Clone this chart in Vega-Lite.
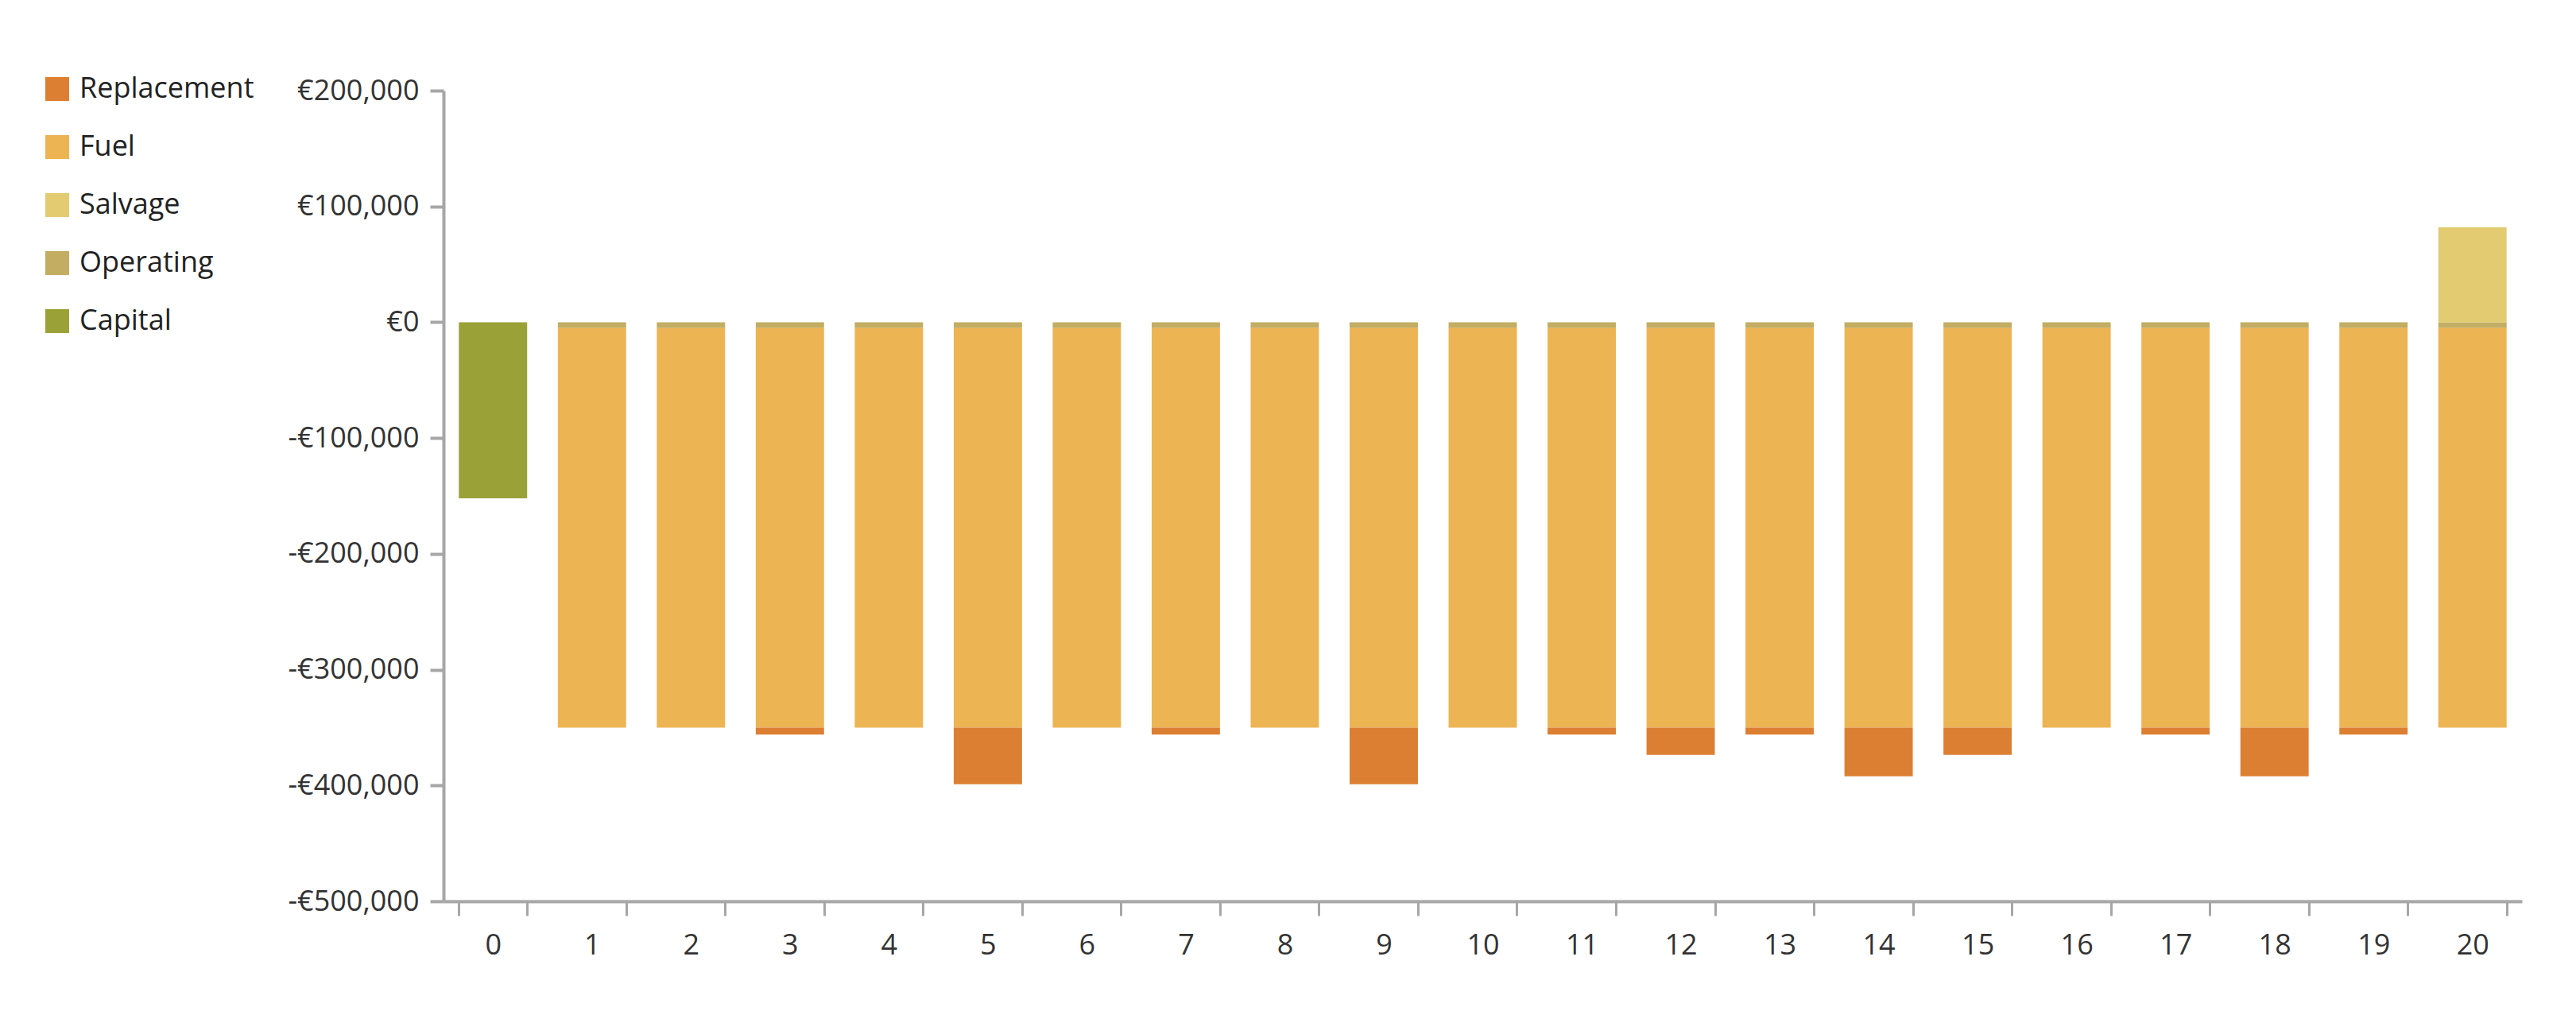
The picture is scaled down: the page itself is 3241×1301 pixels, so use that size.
{
  "$schema": "https://vega.github.io/schema/vega-lite/v6.json",
  "autosize": {"type": "none"},
  "width": 2615,
  "height": 1020,
  "padding": {"left": 558, "top": 114, "right": 68, "bottom": 167},
  "background": "#ffffff",
  "config": {
    "font": "Open Sans",
    "view": {"stroke": null},
    "axis": {"grid": false}
  },
  "data": {
    "values": [
      {"Year": "0", "Category": "Capital", "Value": -152000},
      {"Year": "1", "Category": "Operating", "Value": -5000},
      {"Year": "1", "Category": "Fuel", "Value": -345000},
      {"Year": "2", "Category": "Operating", "Value": -5000},
      {"Year": "2", "Category": "Fuel", "Value": -345000},
      {"Year": "3", "Category": "Operating", "Value": -5000},
      {"Year": "3", "Category": "Fuel", "Value": -345000},
      {"Year": "3", "Category": "Replacement", "Value": -6000},
      {"Year": "4", "Category": "Operating", "Value": -5000},
      {"Year": "4", "Category": "Fuel", "Value": -345000},
      {"Year": "5", "Category": "Operating", "Value": -5000},
      {"Year": "5", "Category": "Fuel", "Value": -345000},
      {"Year": "5", "Category": "Replacement", "Value": -49000},
      {"Year": "6", "Category": "Operating", "Value": -5000},
      {"Year": "6", "Category": "Fuel", "Value": -345000},
      {"Year": "7", "Category": "Operating", "Value": -5000},
      {"Year": "7", "Category": "Fuel", "Value": -345000},
      {"Year": "7", "Category": "Replacement", "Value": -6000},
      {"Year": "8", "Category": "Operating", "Value": -5000},
      {"Year": "8", "Category": "Fuel", "Value": -345000},
      {"Year": "9", "Category": "Operating", "Value": -5000},
      {"Year": "9", "Category": "Fuel", "Value": -345000},
      {"Year": "9", "Category": "Replacement", "Value": -49000},
      {"Year": "10", "Category": "Operating", "Value": -5000},
      {"Year": "10", "Category": "Fuel", "Value": -345000},
      {"Year": "11", "Category": "Operating", "Value": -5000},
      {"Year": "11", "Category": "Fuel", "Value": -345000},
      {"Year": "11", "Category": "Replacement", "Value": -6000},
      {"Year": "12", "Category": "Operating", "Value": -5000},
      {"Year": "12", "Category": "Fuel", "Value": -345000},
      {"Year": "12", "Category": "Replacement", "Value": -23500},
      {"Year": "13", "Category": "Operating", "Value": -5000},
      {"Year": "13", "Category": "Fuel", "Value": -345000},
      {"Year": "13", "Category": "Replacement", "Value": -6000},
      {"Year": "14", "Category": "Operating", "Value": -5000},
      {"Year": "14", "Category": "Fuel", "Value": -345000},
      {"Year": "14", "Category": "Replacement", "Value": -42000},
      {"Year": "15", "Category": "Operating", "Value": -5000},
      {"Year": "15", "Category": "Fuel", "Value": -345000},
      {"Year": "15", "Category": "Replacement", "Value": -23500},
      {"Year": "16", "Category": "Operating", "Value": -5000},
      {"Year": "16", "Category": "Fuel", "Value": -345000},
      {"Year": "17", "Category": "Operating", "Value": -5000},
      {"Year": "17", "Category": "Fuel", "Value": -345000},
      {"Year": "17", "Category": "Replacement", "Value": -6000},
      {"Year": "18", "Category": "Operating", "Value": -5000},
      {"Year": "18", "Category": "Fuel", "Value": -345000},
      {"Year": "18", "Category": "Replacement", "Value": -42000},
      {"Year": "19", "Category": "Operating", "Value": -5000},
      {"Year": "19", "Category": "Fuel", "Value": -345000},
      {"Year": "19", "Category": "Replacement", "Value": -6000},
      {"Year": "20", "Category": "Operating", "Value": -5000},
      {"Year": "20", "Category": "Fuel", "Value": -345000},
      {"Year": "20", "Category": "Salvage", "Value": 82000}
    ]
  },
  "transform": [
    {"calculate": "indexof(['Capital','Salvage','Operating','Fuel','Replacement'], datum.Category)", "as": "StackOrder"}
  ],
  "mark": {"type": "bar"},
  "encoding": {
    "x": {
      "field": "Year",
      "type": "ordinal",
      "sort": ["0","1","2","3","4","5","6","7","8","9","10","11","12","13","14","15","16","17","18","19","20"],
      "scale": {"paddingInner": 0.31, "paddingOuter": 0.155},
      "axis": {
        "title": null,
        "labelAngle": 0,
        "labelFontSize": 36,
        "labelColor": "#333333",
        "labelPadding": 20,
        "tickBand": "extent",
        "tickSize": 18,
        "tickWidth": 3,
        "tickColor": "#a6a6a6",
        "domainColor": "#a6a6a6",
        "domainWidth": 4
      }
    },
    "y": {
      "field": "Value",
      "type": "quantitative",
      "stack": "zero",
      "scale": {"domain": [-500000, 200000], "nice": false, "zero": true},
      "axis": {
        "title": null,
        "values": [-500000, -400000, -300000, -200000, -100000, 0, 100000, 200000],
        "labelExpr": "datum.value < 0 ? '-€' + format(-datum.value, ',') : '€' + format(datum.value, ',')",
        "labelFontSize": 36,
        "labelColor": "#333333",
        "labelPadding": 14,
        "tickSize": 17,
        "tickWidth": 4,
        "tickColor": "#a6a6a6",
        "domainColor": "#a6a6a6",
        "domainWidth": 4
      }
    },
    "order": {"field": "StackOrder", "type": "quantitative"},
    "color": {
      "field": "Category",
      "type": "nominal",
      "scale": {
        "domain": ["Replacement", "Fuel", "Salvage", "Operating", "Capital"],
        "range": ["#dc7f33", "#ecb453", "#e3cb72", "#c3ad63", "#9aa137"]
      },
      "legend": {
        "title": null,
        "orient": "none",
        "legendX": -504,
        "legendY": -20,
        "padding": 0,
        "symbolType": "square",
        "symbolSize": 900,
        "symbolStrokeWidth": 0,
        "symbolOpacity": 1,
        "labelFontSize": 36,
        "labelLimit": 0,
        "labelColor": "#222222",
        "labelOffset": 10,
        "rowPadding": 37
      }
    },
    "tooltip": [
      {"field": "Year", "type": "ordinal"},
      {"field": "Category", "type": "nominal"},
      {"field": "Value", "type": "quantitative", "format": ","}
    ]
  }
}
